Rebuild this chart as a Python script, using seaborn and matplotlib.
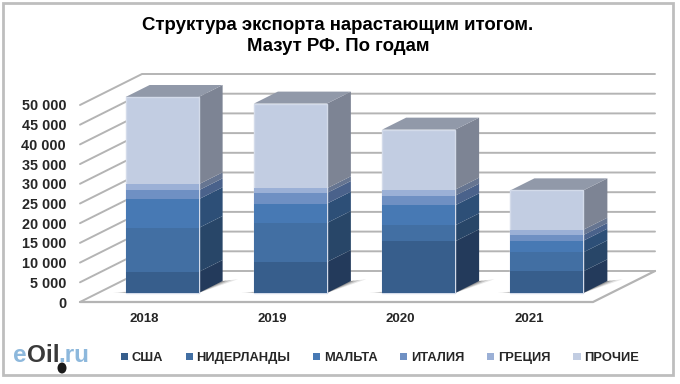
import numpy as np
import pandas as pd
import matplotlib
matplotlib.use('Agg')
import matplotlib.pyplot as plt
from matplotlib.patches import Patch, Polygon, Rectangle, Ellipse
import seaborn as sns

years = ['2018', '2019', '2020', '2021']
countries = ['США', 'НИДЕРЛАНДЫ', 'МАЛЬТА', 'ИТАЛИЯ', 'ГРЕЦИЯ', 'ПРОЧИЕ']

usa = [5330, 7870, 13120, 5500]
netherlands = [11170, 9900, 4060, 4820]
malta = [7280, 4900, 5080, 2960]
italy = [2285, 2710, 2450, 1440]
greece = [1520, 1190, 1520, 1350]
other = [22160, 21500, 15230, 9980]

yticks = [0, 5000, 10000, 15000, 20000, 25000, 30000, 35000, 40000, 45000, 50000]
ylabels = ['0', '5 000', '10 000', '15 000', '20 000', '25 000', '30 000', '35 000', '40 000', '45 000', '50 000']

front_colors = ['#375E8C', '#426FA3', '#4779B4', '#6F90C3', '#9BB0D6', '#C2CDE2']
side_colors = ['#233A5B', '#284668', '#2D4F77', '#4A628B', '#667591', '#7D8494']
top_color = '#9199A9'

W, H = 680, 384
# pixel box of the front plane of the chart
LEFT, RIGHT, BOTTOM, TOP = 80, 593, 302, 105
# how far the bars stand back from the front plane, in pixels
BAR_DX, BAR_DY = 18, 9

sns.set_style('white')
plt.rcParams['font.family'] = ['Liberation Sans', 'DejaVu Sans']

px_per_unit = (RIGHT - LEFT) / 4
px_per_value = (BOTTOM - TOP) / 50000
wall_dx, wall_dy = 62 / px_per_unit, 31 / px_per_value
bar_dx, bar_dy = 24 / px_per_unit, 12 / px_per_value
bar_width = 73 / px_per_unit

fig = plt.figure(figsize=(W / 100, H / 100), dpi=100)


def box(l, r, b, t):
    return [l / W, 1 - b / H, (r - l) / W, (b - t) / H]


def fx(x):
    return x / W


def fy(y):
    return 1 - y / H


fig.add_artist(Rectangle((fx(3), fy(375)), fx(670), 372 / H, fill=False,
                         edgecolor='#BEBEBE', linewidth=2, transform=fig.transFigure))

# walls and floor, these carry the axis labels
ax = fig.add_axes(box(LEFT, RIGHT, BOTTOM, TOP))
ax.patch.set_alpha(0)
grid_color = '#B4B4B4'
for v in yticks:
    ax.plot([-0.5, -0.5 + wall_dx, 3.5 + wall_dx], [v, v + wall_dy, v + wall_dy],
            color=grid_color, lw=1.4, clip_on=False)
ax.plot([-0.5, 3.5, 3.5 + wall_dx], [0, 0, wall_dy], color=grid_color, lw=1.6, clip_on=False)
ax.set_xlim(-0.5, 3.5)
ax.set_ylim(0, 50000)
ax.set_xticks(range(4))
ax.set_xticklabels(years, fontsize=9.5, fontweight='bold')
ax.set_yticks(yticks)
ax.set_yticklabels(ylabels, fontsize=10.4, fontweight='bold')
ax.tick_params(axis='x', length=0, pad=8)
ax.tick_params(axis='y', length=0, pad=10)
sns.despine(ax=ax, left=True, bottom=True, top=True, right=True)

# bars, same scales as the walls but moved back
ax2 = fig.add_axes(box(LEFT + BAR_DX, RIGHT + BAR_DX, BOTTOM - BAR_DY, TOP - BAR_DY))
ax2.patch.set_alpha(0)

series = np.array([usa, netherlands, malta, italy, greece, other], dtype=float)
tops = series.cumsum(axis=0)
df = pd.DataFrame({
    'year': np.tile(years, len(countries)),
    'country': np.repeat(countries, len(years)),
    'cum': tops.ravel(),
})

for i in range(len(years)):
    x0, x1 = i - bar_width / 2, i + bar_width / 2
    # soft shadow on the floor
    for grow, alpha in [(1.0, 0.12), (0.6, 0.2), (0.25, 0.3)]:
        ax2.add_patch(Polygon([(x0 - 0.1 * grow, 0), (x1, 0),
                               (x1 + bar_dx + 0.12 * grow, bar_dy * (1 + 0.15 * grow)),
                               (x1 + bar_dx, bar_dy)],
                              facecolor='#303030', edgecolor='none', alpha=alpha, zorder=1))
    # side faces
    low = 0
    for k in range(len(countries)):
        high = tops[k, i]
        ax2.add_patch(Polygon([(x1, low), (x1 + bar_dx, low + bar_dy),
                               (x1 + bar_dx, high + bar_dy), (x1, high)],
                              facecolor=side_colors[k], edgecolor='none', zorder=2))
        low = high
    # top face
    ax2.add_patch(Polygon([(x0, low), (x1, low), (x1 + bar_dx, low + bar_dy), (x0 + bar_dx, low + bar_dy)],
                          facecolor=top_color, edgecolor='none', zorder=2))

sns.barplot(data=df, x='year', y='cum', hue='country', order=years, hue_order=countries[::-1],
            palette=front_colors[::-1], dodge=False, width=bar_width, saturation=1,
            legend=False, ax=ax2, zorder=3, linewidth=0)
ax2.set_xlim(-0.5, 3.5)
ax2.set_ylim(0, 50000)
ax2.set_xlabel('')
ax2.set_ylabel('')
ax2.set_xticks([])
ax2.set_yticks([])
sns.despine(ax=ax2, left=True, bottom=True, top=True, right=True)
for p in ax2.patches:
    p.set_clip_on(False)
# light rim round the top segment
for p in ax2.containers[0]:
    p.set_edgecolor('#D3DBEA')
    p.set_linewidth(1)

ax.set_xlabel('')
ax.set_ylabel('')

fig.text(fx(338), fy(36), 'Структура экспорта нарастающим итогом.\nМазут РФ. По годам',
         ha='center', va='center', fontsize=13.4, fontweight='bold', linespacing=1.32, color='black')

handles = [Patch(facecolor=c, edgecolor='none') for c in front_colors]
fig.legend(handles, countries, ncol=6, loc='center left', bbox_to_anchor=(fx(109), fy(358)),
           frameon=False, handlelength=0.55, handleheight=0.55,
           handletextpad=0.3, columnspacing=1.75, prop={'weight': 'bold', 'size': 9.3})

# site logo
fig.text(fx(13), fy(362), 'e', color='#8DB8DC', fontsize=17.5, fontweight='bold', va='baseline')
fig.text(fx(27), fy(362), 'Oil', color='#3A3A3A', fontsize=17.5, fontweight='bold', va='baseline')
fig.text(fx(58), fy(362), '.ru', color='#8DB8DC', fontsize=17.5, fontweight='bold', va='baseline')
fig.add_artist(Ellipse((fx(62), fy(368)), 9 / W, 11 / H, facecolor='#1A1A1A', edgecolor='none',
                       transform=fig.transFigure))

fig.savefig('out.png', dpi=100)
